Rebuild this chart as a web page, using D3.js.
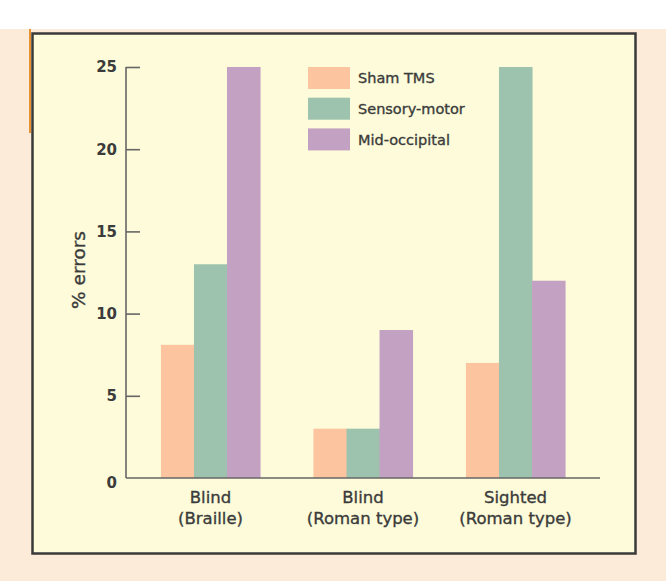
<!DOCTYPE html>
<html>
<head>
<meta charset="utf-8">
<script src="https://cdn.jsdelivr.net/npm/d3@7"></script>
<style>
  body { margin: 0; background: #fff; }
  text { font-family: "DejaVu Sans", sans-serif; fill: #3b3b3b; }
  .med { stroke: #3b3b3b; stroke-width: 0.35px; }
</style>
</head>
<body>
<div id="chart"></div>
<script>
// chart data
const groups = ['Blind|(Braille)', 'Blind|(Roman type)', 'Sighted|(Roman type)']
const series = ['Sham TMS', 'Sensory-motor', 'Mid-occipital']
const shamTMS = [8.1, 3, 7]
const sensoryMotor = [13, 3, 25]
const midOccipital = [25, 9, 12]
const yTicks = [0, 5, 10, 15, 20, 25]

const colors = ['#fcc49f', '#9dc3ae', '#c3a1c2']
const values = [shamTMS, sensoryMotor, midOccipital]

const width = 666,
  height = 581

const svg = d3.select('#chart')
  .append('svg')
  .attr('width', width)
  .attr('height', height)

// page background + framed panel
svg.append('rect')
  .attr('x', 0).attr('y', 29)
  .attr('width', width).attr('height', height - 29)
  .attr('fill', '#fdebd9')
svg.append('line')
  .attr('x1', 30).attr('x2', 30)
  .attr('y1', 29).attr('y2', 133)
  .attr('stroke', '#e8912e').attr('stroke-width', 2)
svg.append('rect')
  .attr('x', 32.5).attr('y', 33.5)
  .attr('width', 603).attr('height', 520)
  .attr('fill', '#fdfbd9')
  .attr('stroke', '#3a3a3a')
  .attr('stroke-width', 2.5)

// scales
const x0 = d3.scaleBand()
  .domain(groups)
  .range([126, 600])
  .paddingInner(0.35)
  .paddingOuter(0.229)

const x1 = d3.scaleBand()
  .domain(series)
  .range([0, x0.bandwidth()])

const y = d3.scaleLinear()
  .domain([0, 25])
  .range([478, 67])

// bars
series.forEach((s, si) => {
  svg.append('g')
    .selectAll('rect')
    .data(values[si])
    .enter()
    .append('rect')
    .attr('x', (d, i) => x0(groups[i]) + x1(s))
    .attr('y', d => y(d))
    .attr('width', x1.bandwidth() + 0.5)
    .attr('height', d => y(0) - y(d))
    .attr('fill', colors[si])
})

// y axis (ticks point inward)
const yAxis = svg.append('g')
  .attr('transform', 'translate(126,0)')
  .call(d3.axisRight(y).tickValues(yTicks).tickSize(14).tickFormat(''))
yAxis.select('.domain').remove()
yAxis.selectAll('.tick line')
  .attr('stroke', '#666')
  .attr('stroke-width', 1.6)
  .filter(d => d === 0).remove()
svg.append('line')
  .attr('x1', 126).attr('x2', 126)
  .attr('y1', y(25)).attr('y2', y(0))
  .attr('stroke', '#666').attr('stroke-width', 1.6)

svg.append('g')
  .selectAll('text')
  .data(yTicks)
  .enter()
  .append('text')
  .attr('x', 117)
  .attr('y', d => y(d) + (d === 0 ? 5 : 0))
  .attr('dy', '0.36em')
  .attr('text-anchor', 'end')
  .attr('font-size', 15)
  .attr('font-weight', 'bold')
  .text(d => d)

// x axis
svg.append('line')
  .attr('x1', 126).attr('x2', 600)
  .attr('y1', y(0)).attr('y2', y(0))
  .attr('stroke', '#666').attr('stroke-width', 1.6)

const xl = svg.append('g')
  .selectAll('text')
  .data(groups)
  .enter()
  .append('text')
  .attr('class', 'med')
  .attr('text-anchor', 'middle')
  .attr('font-size', 16.5)
xl.append('tspan')
  .attr('x', d => x0(d) + x0.bandwidth() / 2)
  .attr('y', 503)
  .text(d => d.split('|')[0])
xl.append('tspan')
  .attr('x', d => x0(d) + x0.bandwidth() / 2)
  .attr('y', 524)
  .text(d => d.split('|')[1])

// y label
svg.append('text')
  .attr('class', 'med')
  .attr('transform', 'translate(85,270) rotate(-90)')
  .attr('text-anchor', 'middle')
  .attr('font-size', 18.5)
  .text('% errors')

// legend
const legend = svg.append('g')
  .selectAll('g')
  .data(series)
  .enter()
  .append('g')
  .attr('transform', (d, i) => `translate(308,${67 + i * 30.7})`)
legend.append('rect')
  .attr('width', 42).attr('height', 22)
  .attr('fill', (d, i) => colors[i])
legend.append('text')
  .attr('class', 'med')
  .attr('x', 50).attr('y', 11)
  .attr('dy', '0.36em')
  .attr('font-size', 14.5)
  .text(d => d)
</script>
</body>
</html>
